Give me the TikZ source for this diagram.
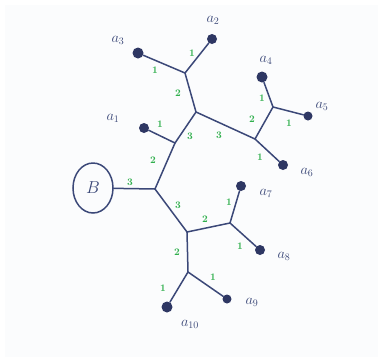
\documentclass[tikz,border=0pt]{standalone}
\usetikzlibrary{shapes.geometric}
\definecolor{navy}{HTML}{3B4878}
\definecolor{dotc}{HTML}{2E3763}
\definecolor{wgreen}{HTML}{2FAF4C}
\definecolor{bgc}{HTML}{FBFCFD}
\begin{document}
\begin{tikzpicture}[x=1pt,y=-1pt,
  edge/.style={draw=navy, line width=1.5pt, line cap=round},
  leaf/.style={circle, fill=dotc, inner sep=0pt, minimum size=10pt},
  lab/.style={text=navy, font=\Large, inner sep=0pt},
  wt/.style={text=wgreen, font=\normalsize\bfseries, inner sep=0pt}]
\useasboundingbox (0,0) rectangle (380,357);
\fill[bgc] (5,5) rectangle (378,357);
% junctions
\coordinate (J1) at (185,73);
\coordinate (J2) at (196,112);
\coordinate (J3) at (255,139);
\coordinate (J4) at (273,107);
\coordinate (J5) at (175,143);
\coordinate (J6) at (155,189);
\coordinate (J7) at (187,232);
\coordinate (J8) at (230,223);
\coordinate (J9) at (188,272);
% leaves
\node[leaf] (a1) at (144,128) {};
\node[leaf] (a2) at (212,39) {};
\node[leaf, minimum size=11pt] (a3) at (138,53) {};
\node[leaf, minimum size=11pt] (a4) at (262,77) {};
\node[leaf, minimum size=9pt] (a5) at (308,116) {};
\node[leaf] (a6) at (283,165) {};
\node[leaf] (a7) at (241,186) {};
\node[leaf] (a8) at (260,250) {};
\node[leaf, minimum size=9pt] (a9) at (227,299) {};
\node[leaf, minimum size=11pt] (a10) at (167,307) {};
\node[ellipse, draw=navy, line width=1.5pt, minimum width=40pt, minimum height=50pt, inner sep=0pt, text=navy, font=\LARGE] (B) at (93,188) {$B$};
% edges
\draw[edge] (a3) -- (J1) -- (a2);
\draw[edge] (J1) -- (J2) -- (J3) -- (a6);
\draw[edge] (J3) -- (J4) -- (a4);
\draw[edge] (J4) -- (a5);
\draw[edge] (J2) -- (J5) -- (a1);
\draw[edge] (J5) -- (J6) -- (B);
\draw[edge] (J6) -- (J7) -- (J8) -- (a7);
\draw[edge] (J8) -- (a8);
\draw[edge] (J7) -- (J9) -- (a10);
\draw[edge] (J9) -- (a9);
% leaf labels
\node[lab] (l1) at (113,118) {$a_1$};
\node[lab] (l2) at (213,20) {$a_2$};
\node[lab] (l3) at (118,40) {$a_3$};
\node[lab] (l4) at (266,60) {$a_4$};
\node[lab] (l5) at (322,106) {$a_5$};
\node[lab] (l6) at (307,172) {$a_6$};
\node[lab] (l7) at (266,193) {$a_7$};
\node[lab] (l8) at (284,256) {$a_8$};
\node[lab] (l9) at (252,302) {$a_9$};
\node[lab] (l10) at (190,324) {$a_{10}$};
% weights
\node[wt] (w1) at (155,70) {1};
\node[wt] (w2) at (192,53) {1};
\node[wt] (w3) at (178,93) {2};
\node[wt] (w4) at (160,124) {1};
\node[wt] (w5) at (190,136) {3};
\node[wt] (w6) at (219,135) {3};
\node[wt] (w7) at (252,119) {2};
\node[wt] (w8) at (262,98) {1};
\node[wt] (w9) at (289,123) {1};
\node[wt] (w10) at (260,157) {1};
\node[wt] (w11) at (153,160) {2};
\node[wt] (w12) at (130,182) {3};
\node[wt] (w13) at (178,205) {3};
\node[wt] (w14) at (205,219) {2};
\node[wt] (w15) at (229,202) {1};
\node[wt] (w16) at (240,246) {1};
\node[wt] (w17) at (177,252) {2};
\node[wt] (w18) at (163,288) {1};
\node[wt] (w19) at (213,277) {1};
\end{tikzpicture}
\end{document}
